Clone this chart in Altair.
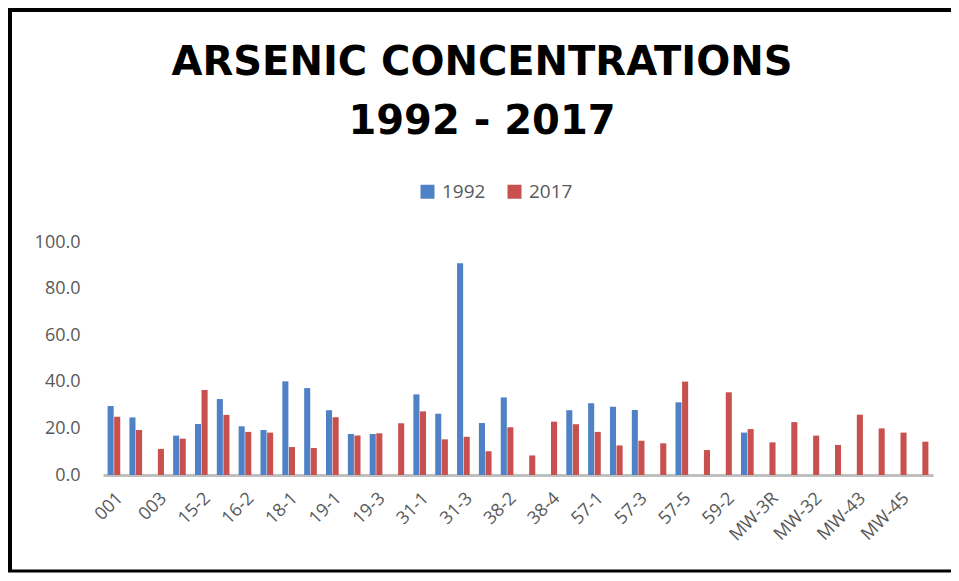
import altair as alt
import pandas as pd

categories = ["001", "002", "003", "15-1", "15-2", "16-1", "16-2", "17-1", "18-1", "18-2",
              "19-1", "19-2", "19-3", "19-4", "31-1", "31-2", "31-3", "38-1", "38-2", "38-3",
              "38-4", "38-5", "57-1", "57-2", "57-3", "57-4", "57-5", "59-1", "59-2", "59-3",
              "MW-3R", "MW-31", "MW-32", "MW-42", "MW-43", "MW-44", "MW-45", "MW-46"]
shown_labels = categories[::2]

values_1992 = [29.6, 24.7, None, 16.9, 21.9, 32.6, 20.9, 19.3, 40.2, 37.3,
               27.8, 17.6, 17.6, None, 34.6, 26.3, 90.9, 22.3, 33.3, None,
               None, 27.8, 30.8, 29.3, 27.9, None, 31.2, None, None, 18.2,
               None, None, None, None, None, None, None, None]
values_2017 = [25.0, 19.3, 11.2, 15.6, 36.5, 25.8, 18.5, 18.2, 12.0, 11.6,
               24.8, 17.0, 17.9, 22.2, 27.3, 15.3, 16.4, 10.2, 20.5, 8.4,
               22.9, 21.8, 18.5, 12.7, 14.7, 13.6, 40.1, 10.7, 35.5, 19.7,
               14.0, 22.7, 16.9, 12.9, 25.9, 20.0, 18.2, 14.3]
years = ["1992", "2017"]
colors = ["#4f81c7", "#c8504e"]
y_ticks = [0, 20, 40, 60, 80, 100]

rows = []
for c, v1, v2 in zip(categories, values_1992, values_2017):
    if v1 is not None:
        rows.append({"well": c, "year": years[0], "value": v1})
    if v2 is not None:
        rows.append({"well": c, "year": years[1], "value": v2})
df = pd.DataFrame(rows)

bars = alt.Chart(df).mark_bar().encode(
    x=alt.X("well:N", sort=categories, title=None,
            scale=alt.Scale(paddingInner=0.42, paddingOuter=0.21),
            axis=alt.Axis(values=shown_labels, labelAngle=-45, labelAlign="right",
                          labelBaseline="top", labelPadding=14, ticks=False,
                          domainColor="#bfbfbf", domainWidth=3,
                          labelFont="Open Sans", labelFontSize=18, labelColor="#595959")),
    xOffset=alt.XOffset("year:N", sort=years, scale=alt.Scale(paddingInner=0.08)),
    y=alt.Y("value:Q", title=None, scale=alt.Scale(domain=[0, 100], nice=False),
            axis=alt.Axis(values=y_ticks, format=".1f", grid=False, domain=False, ticks=False,
                          labelPadding=23, labelFont="Open Sans", labelFontSize=18,
                          labelColor="#595959")),
    color=alt.Color("year:N", sort=years, scale=alt.Scale(domain=years, range=colors),
                    legend=alt.Legend(title=None, orient="none", legendX=315, legendY=-60,
                                      direction="horizontal", symbolType="square",
                                      symbolSize=196, symbolStrokeWidth=0,
                                      labelFont="Open Sans", labelFontSize=19,
                                      labelColor="#595959", labelOffset=5,
                                      columnPadding=19, padding=0)),
)

one = pd.DataFrame({"k": [0]})
left_edge = alt.Chart(one).mark_rule(color="black", strokeWidth=5, clip=False).encode(
    x=alt.value(-93.5), y=alt.value(-234.5), y2=alt.value(329))
top_edge = alt.Chart(one).mark_rule(color="black", strokeWidth=5, clip=False).encode(
    x=alt.value(-96), x2=alt.value(870), y=alt.value(-232.5))
bottom_edge = alt.Chart(one).mark_rule(color="black", strokeWidth=3, clip=False).encode(
    x=alt.value(-96), x2=alt.value(870), y=alt.value(329))

chart = alt.layer(left_edge, top_edge, bottom_edge, bars).properties(
    width=830, height=233,
    padding={"left": 95, "top": 234, "right": 18, "bottom": 98},
    autosize=alt.AutoSizeParams(type="none"),
    title=alt.TitleParams(
        text=["ARSENIC CONCENTRATIONS", "1992 - 2017"],
        font="DejaVu Sans", fontSize=40, fontWeight="bold", color="black",
        anchor="middle", dx=-36, offset=-136.5, lineHeight=59,
    ),
).configure_view(stroke=None)

chart.save("out.html", embed_options={"renderer": "svg", "actions": False})
